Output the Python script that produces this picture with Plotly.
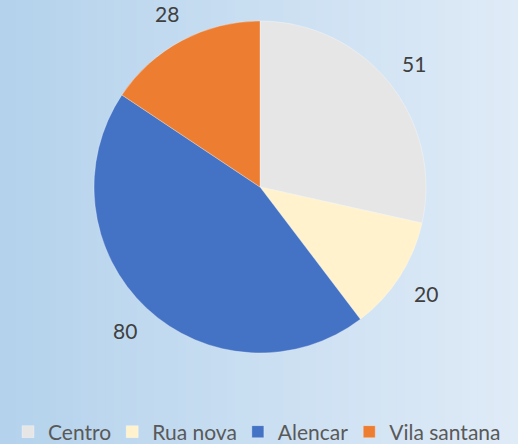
import math
import plotly.graph_objects as go

labels = ["Centro", "Rua nova", "Alencar", "Vila santana"]
values = [51, 20, 80, 28]
colors = ["#e7e6e6", "#fff2cc", "#4472c4", "#ed7d31"]

W, H = 518, 444
cx_px, cy_px, r_px = 260, 187, 166
label_r = 197

cx = cx_px / W
cy = 1 - cy_px / H
dx = r_px / W
dy = r_px / H

fig = go.Figure()
fig.add_trace(go.Pie(
    labels=labels, values=values, sort=False, direction="clockwise", rotation=0,
    marker=dict(colors=colors, line=dict(color="rgba(255,255,255,0.6)", width=0.5)),
    textinfo="none", hole=0,
    domain=dict(x=[cx - dx, cx + dx], y=[cy - dy, cy + dy]),
))

# data labels placed outside the slices at their mid-angles
total = sum(values)
cum = 0
annotations = []
for v in values:
    mid = (cum + v / 2) / total * 2 * math.pi
    cum += v
    x = cx_px + label_r * math.sin(mid)
    y = cy_px - label_r * math.cos(mid)
    annotations.append(dict(x=x / W, y=1 - y / H, xref="paper", yref="paper",
                            xanchor="center", yanchor="middle",
                            text=str(v), showarrow=False,
                            font=dict(family="Lato", size=21, color="#404040")))

# horizontal background gradient
shapes = []
n = 64
c0 = (0xb4, 0xd2, 0xec)
c1 = (0xdf, 0xeb, 0xf7)
for i in range(n):
    t = i / (n - 1)
    col = tuple(round(c0[k] + (c1[k] - c0[k]) * t) for k in range(3))
    shapes.append(dict(type="rect", xref="paper", yref="paper",
                       x0=i / n, x1=(i + 1) / n + 0.002, y0=0, y1=1,
                       fillcolor="rgb(%d,%d,%d)" % col, line=dict(width=0), layer="below"))

fig.update_layout(
    width=W, height=H,
    margin=dict(l=0, r=0, t=0, b=0, autoexpand=False),
    paper_bgcolor="#cadff2", plot_bgcolor="rgba(0,0,0,0)",
    shapes=shapes, annotations=annotations,
    showlegend=True,
    legend=dict(orientation="h", x=0.5, xanchor="center", y=1 - 432 / H, yanchor="middle",
                font=dict(family="Lato", size=21, color="#595959"),
                bgcolor="rgba(0,0,0,0)", itemwidth=30, indentation=-4,
                traceorder="normal"),
)

fig.write_html("out.html", config={"displayModeBar": False},
               post_script="document.body.style.margin='0';document.body.style.overflow='hidden';")
